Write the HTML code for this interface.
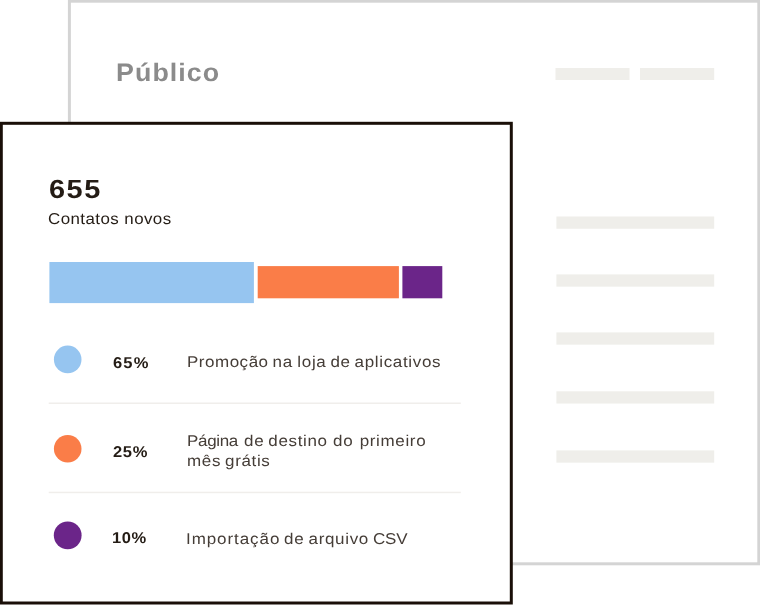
<!DOCTYPE html>
<html lang="pt-BR">
<head>
<meta charset="utf-8">
<title>Público</title>
<style>
  html, body { margin: 0; padding: 0; background: #ffffff; }
  body { width: 760px; height: 605px; position: relative; overflow: hidden; text-rendering: geometricPrecision;
         font-family: "Liberation Sans", sans-serif; color: #241c15; }
  .abs { position: absolute; }
  .title { left: 115.6px; top: 58.4px; font-size: 25.3px; line-height: 30px; font-weight: bold;
           color: #8b8b8b; letter-spacing: 1px; transform: scaleX(1.06); transform-origin: 0 0; white-space: nowrap; }
  .num { left: 49.2px; top: 173.7px; font-size: 26.3px; line-height: 30px; font-weight: bold;
         letter-spacing: 1.35px; transform: scaleX(1.10); transform-origin: 0 0; white-space: nowrap; }
  .sub { left: 48.4px; top: 210.4px; font-size: 15.8px; line-height: 20px; letter-spacing: 0.41px; transform: scaleX(1.07); transform-origin: 0 0; white-space: nowrap; }
  .pct { left: 113px; font-size: 15.6px; line-height: 20px; font-weight: bold; letter-spacing: 1.1px; transform: scaleX(1.06); transform-origin: 0 0; white-space: nowrap; }
  .lbl { left: 186.5px; font-size: 15.6px; line-height: 20px; letter-spacing: 0.6px; word-spacing: -1.3px; transform: scaleX(1.09); transform-origin: 0 0; color: #453d37; white-space: nowrap; }
</style>
</head>
<body>

  <svg class="abs" style="left:0;top:0;" width="760" height="605" viewBox="0 0 760 605">
    <rect x="69.4" y="1.2" width="689.4" height="562.6" fill="#ffffff" stroke="#d4d4d4" stroke-width="3"/>
    <g fill="#efeeea">
      <rect x="555.5" y="68" width="74" height="12"/>
      <rect x="640" y="68" width="74.2" height="12"/>
      <rect x="556.4" y="216.5" width="157.8" height="12.25"/>
      <rect x="556.4" y="274.4" width="157.8" height="12.25"/>
      <rect x="556.4" y="332.4" width="157.8" height="12.25"/>
      <rect x="556.4" y="391.3" width="157.8" height="12.25"/>
      <rect x="556.4" y="450.4" width="157.8" height="12.25"/>
    </g>
    <rect x="1.3" y="123.3" width="510" height="479.7" fill="#ffffff" stroke="#1a0f08" stroke-width="3"/>
    <rect x="49.4" y="262" width="204.5" height="41.1" fill="#96c5f0"/>
    <rect x="257.7" y="266.1" width="141.2" height="32.2" fill="#fa7d48"/>
    <rect x="402.4" y="266.1" width="39.9" height="32.2" fill="#6b2589"/>
    <circle cx="67.7" cy="359.4" r="13.8" fill="#96c5f0"/>
    <circle cx="67.7" cy="448.8" r="13.8" fill="#fa7d48"/>
    <circle cx="67.7" cy="535.3" r="13.9" fill="#6b2589"/>
    <rect x="48.7" y="402.5" width="412.1" height="1.5" fill="#f0eeeb"/>
    <rect x="48.7" y="491.7" width="412.1" height="1.5" fill="#f0eeeb"/>
  </svg>
  <div class="abs title">Público</div>
  <div class="abs num">655</div>
  <div class="abs sub">Contatos novos</div>
  <div class="abs pct" style="top:354px;">65%</div>
  <div class="abs lbl" style="top:353.2px;"><span style="letter-spacing:0.47px">Promoção</span> na <span style="margin-left:0.6px">loja</span> de aplicativos</div>
  <div class="abs pct" style="top:443.2px;left:112.7px;letter-spacing:0.6px;">25%</div>
  <div class="abs lbl" style="top:432.2px;"><span style="letter-spacing:-0.3px">Página</span> <span style="margin-left:2px">de</span> destino <span style="margin-left:1.3px">do</span> <span style="margin-left:2.2px">primeiro</span><br>mês grátis</div>
  <div class="abs pct" style="top:529.4px;left:112.1px;letter-spacing:0.5px;">10%</div>
  <div class="abs lbl" style="top:529.7px;left:186px;"><span style="letter-spacing:0.85px">Importação</span> <span style="margin-left:-0.2px">de</span> <span style="margin-left:0.3px">arquivo</span> <span style="letter-spacing:-0.15px">CSV</span></div>
</body>
</html>
